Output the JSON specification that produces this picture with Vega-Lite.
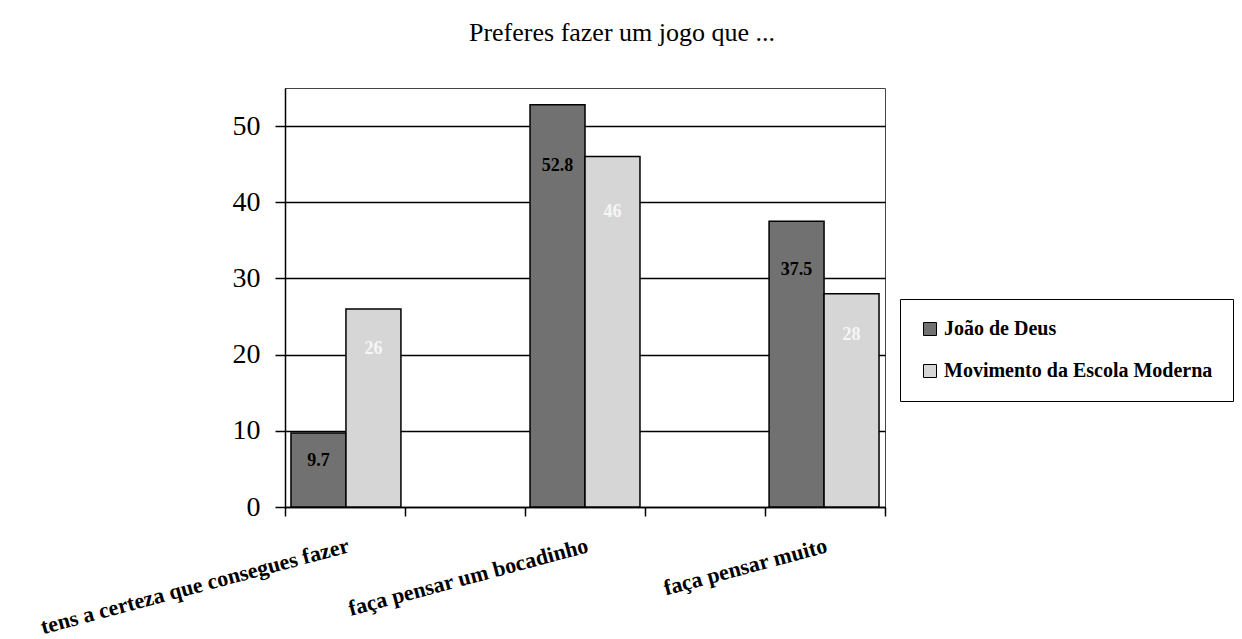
{
  "$schema": "https://vega.github.io/schema/vega-lite/v6.json",
  "width": 600,
  "height": 419,
  "autosize": {"type": "none"},
  "padding": {"left": 285, "top": 88, "right": 357, "bottom": 132},
  "background": "white",
  "title": {
    "text": "Preferes fazer um jogo que ...",
    "font": "Liberation Serif",
    "fontSize": 26,
    "fontWeight": "normal",
    "color": "black",
    "anchor": "middle",
    "frame": "group",
    "dx": 37,
    "offset": 42
  },
  "config": {
    "view": {"stroke": "#444", "strokeWidth": 1},
    "font": "Liberation Serif",
    "legend": {
      "orient": "none",
      "legendX": 615,
      "legendY": 211,
      "strokeColor": "black",
      "strokeWidth": 1,
      "fillColor": "white",
      "padding": 20,
      "rowPadding": 22,
      "symbolType": "square",
      "symbolSize": 169,
      "symbolStrokeColor": "black",
      "symbolStrokeWidth": 1,
      "labelFont": "Liberation Serif",
      "labelFontWeight": "bold",
      "labelFontSize": 20,
      "labelColor": "black",
      "labelLimit": 400
    }
  },
  "datasets": {
    "bars": [
      {"cat": "tens a certeza que consegues fazer", "series": "João de Deus", "value": 9.7},
      {"cat": "tens a certeza que consegues fazer", "series": "Movimento da Escola Moderna", "value": 26},
      {"cat": "faça pensar um bocadinho", "series": "João de Deus", "value": 52.8},
      {"cat": "faça pensar um bocadinho", "series": "Movimento da Escola Moderna", "value": 46},
      {"cat": "faça pensar muito", "series": "João de Deus", "value": 37.5},
      {"cat": "faça pensar muito", "series": "Movimento da Escola Moderna", "value": 28}
    ],
    "ticks": [{"t": 0}, {"t": 1}, {"t": 2}, {"t": 3}, {"t": 4}, {"t": 5}]
  },
  "layer": [
    {
      "data": {"name": "bars"},
      "mark": {"type": "bar", "stroke": "black", "strokeWidth": 1.5},
      "encoding": {
        "x": {
          "field": "cat", "type": "nominal", "sort": null,
          "scale": {"type": "band", "paddingInner": 0.54, "paddingOuter": 0.025},
          "axis": {
            "title": null, "orient": "bottom",
            "labelAngle": -15, "labelAlign": "right", "labelBaseline": "top",
            "labelFont": "Liberation Serif", "labelFontWeight": "bold", "labelFontSize": 22,
            "labelColor": "black", "labelPadding": 28, "labelLimit": 500,
            "ticks": false, "domainColor": "black", "domainWidth": 1.5, "grid": false
          }
        },
        "xOffset": {"field": "series", "type": "nominal", "scale": {"type": "band", "paddingInner": 0, "paddingOuter": 0}},
        "y": {
          "field": "value", "type": "quantitative",
          "scale": {"domain": [0, 55], "nice": false},
          "axis": {
            "title": null, "values": [0, 10, 20, 30, 40, 50],
            "labelFont": "Liberation Serif", "labelFontSize": 28, "labelColor": "black",
            "labelPadding": 15, "tickSize": 10, "tickColor": "black", "tickWidth": 1.5,
            "domainColor": "black", "domainWidth": 1.5,
            "grid": true, "gridColor": "black", "gridWidth": 1.5
          }
        },
        "color": {
          "field": "series", "type": "nominal",
          "scale": {"domain": ["João de Deus", "Movimento da Escola Moderna"], "range": ["#717171", "#d6d6d6"]},
          "legend": {"title": null}
        }
      }
    },
    {
      "data": {"name": "bars"},
      "mark": {"type": "text", "font": "Liberation Serif", "fontWeight": "bold", "fontSize": 18, "baseline": "middle", "align": "center", "dy": 20},
      "encoding": {
        "x": {"field": "cat", "type": "nominal", "sort": null, "scale": {"type": "band", "paddingInner": 0.54, "paddingOuter": 0.025}, "axis": null},
        "xOffset": {"field": "series", "type": "nominal", "scale": {"type": "band", "paddingInner": 0, "paddingOuter": 0}},
        "y": {"field": "value", "type": "quantitative", "scale": {"domain": [0, 61.2], "nice": false}, "axis": null},
        "text": {"field": "value", "type": "quantitative"},
        "color": {"condition": {"test": "datum.series === 'João de Deus'", "value": "black"}, "value": "#f6f6f6"}
      }
    },
    {
      "data": {"name": "ticks"},
      "mark": {"type": "point", "opacity": 0},
      "encoding": {
        "x": {
          "field": "t", "type": "quantitative",
          "scale": {"domain": [0, 5], "nice": false, "zero": false},
          "axis": {
            "orient": "bottom", "title": null, "values": [0, 1, 2, 3, 4, 5],
            "labels": false, "domain": false, "grid": false,
            "ticks": true, "tickSize": 9, "tickColor": "black", "tickWidth": 1.5
          }
        }
      }
    }
  ],
  "resolve": {"scale": {"x": "independent", "y": "independent", "xOffset": "independent"}}
}
